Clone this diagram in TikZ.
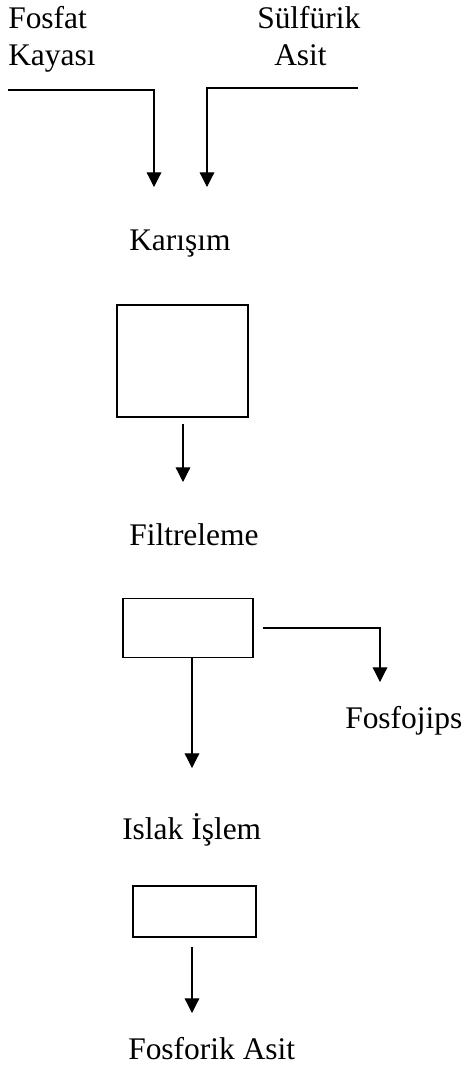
\documentclass[tikz,border=0pt]{standalone}
\usepackage{fontspec}
\setmainfont{Liberation Serif}
\usetikzlibrary{arrows.meta}
\begin{document}
\begin{tikzpicture}[x=0.75pt,y=-0.75pt,
  lbl/.style={anchor=base west,inner sep=0pt,font=\fontsize{23.6pt}{28pt}\selectfont},
  box/.style={draw,line width=0.9pt,inner sep=0pt,rectangle},
  ln/.style={line width=0.9pt},
  arr/.style={line width=0.9pt,-{Triangle[length=11pt,width=11pt]}}]
\useasboundingbox (0,0) rectangle (464,1068);
% texts
\node[lbl] (fosfat) at (8,28) {Fosfat};
\node[lbl] (kayasi) at (8,65) {Kayası};
\node[lbl] (sulf) at (257,28) {Sülfürik};
\node[lbl] (asit) at (274,65) {Asit};
\node[lbl] (karisim) at (129,250) {Karışım};
\node[lbl] (filt) at (129,545) {Filtreleme};
\node[lbl] (fosfojips) at (345,728) {Fosfojips};
\node[lbl] (islak) at (122,839) {Islak İşlem};
\node[lbl] (fasit) at (128,1059) {Fosforik Asit};
% boxes
\node[box,minimum width=98.25pt,minimum height=84pt] (b1) at (182.5,361) {};
\node[box,minimum width=97.5pt,minimum height=44.25pt] (b2) at (188,628) {};
\node[box,minimum width=92.25pt,minimum height=38.25pt] (b3) at (194.5,911.5) {};
% top feed lines
\coordinate (l1) at (8,90);
\coordinate (l2) at (154,90);
\coordinate (l3) at (154,187);
\coordinate (r1) at (358,88);
\coordinate (r2) at (207,88);
\coordinate (r3) at (207,187);
\draw[arr] (l1) -- (l2) -- (l3);
\draw[arr] (r1) -- (r2) -- (r3);
% box1 arrow
\coordinate (a1s) at (183,424);
\coordinate (a1e) at (183,482);
\draw[arr] (a1s) -- (a1e);
% box2 arrows
\coordinate (a2e) at (192,768);
\draw[arr] (a2e |- b2.south) -- (a2e);
\coordinate (fjs) at (263,628);
\coordinate (fje) at (380,682);
\draw[arr] (fjs) -| (fje);
% box3 arrow
\coordinate (a3s) at (192,947);
\coordinate (a3e) at (192,1013);
\draw[arr] (a3s) -- (a3e);
\end{tikzpicture}
\end{document}
